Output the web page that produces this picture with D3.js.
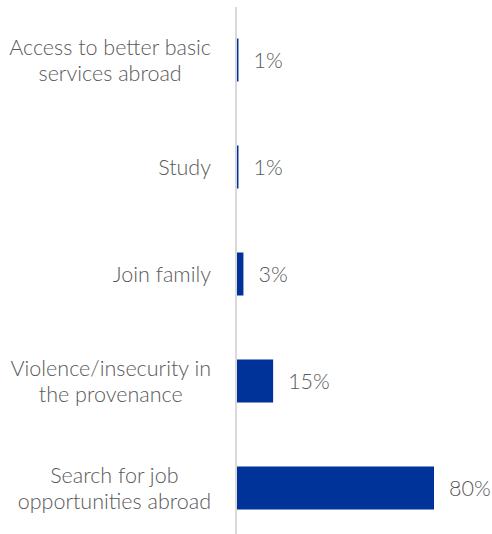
<!DOCTYPE html>
<html>
<head>
<meta charset="utf-8">
<script src="https://cdn.jsdelivr.net/npm/d3@7"></script>
<style>
  html, body { margin: 0; padding: 0; background: #fff; }
  svg { display: block; }
  text { font-family: "Lato", "Open Sans", sans-serif; fill: #595959; }
</style>
</head>
<body>
<svg id="chart" width="492" height="534"></svg>
<script>
const categories = [
  ["Access to better basic", "services abroad"],
  ["Study"],
  ["Join family"],
  ["Violence/insecurity in", "the provenance"],
  ["Search for job", "opportunities abroad"]
];
const values = [1, 1, 3, 15, 80];
const valueLabels = ["1%", "1%", "3%", "15%", "80%"];

const svg = d3.select("#chart");
const axisX = 236;
const x = d3.scaleLinear().domain([0, 80]).range([axisX, 434]);
const y = d3.scaleBand().domain(d3.range(categories.length)).range([6.5, 541.5])
  .paddingInner(0.598).paddingOuter(0.299);

svg.selectAll("rect.bar").data(values).join("rect")
  .attr("class", "bar")
  .attr("x", x(0))
  .attr("y", (d, i) => y(i))
  .attr("width", d => x(d) - x(0))
  .attr("height", y.bandwidth())
  .attr("fill", "#00339a");

svg.append("line")
  .attr("x1", axisX).attr("x2", axisX)
  .attr("y1", 7).attr("y2", 534)
  .attr("stroke", "#d9d9d9").attr("stroke-width", 2);

const fs = 21.5, lh = 26, labelRight = 211;
const lbl = svg.selectAll("text.cat").data(categories).join("text")
  .attr("class", "cat")
  .attr("text-anchor", "middle")
  .attr("font-size", fs)
  .attr("font-weight", 300);
lbl.each(function(lines, i) {
  const cy = y(i) + y.bandwidth() / 2;
  const n = lines.length;
  const t = d3.select(this);
  const spans = t.selectAll("tspan").data(lines).join("tspan")
    .attr("y", (l, j) => cy + (j - (n - 1) / 2) * lh)
    .attr("dy", "0.35em")
    .text(l => l);
  let maxW = 0;
  spans.each(function() { maxW = Math.max(maxW, this.getComputedTextLength()); });
  spans.attr("x", labelRight - maxW / 2);
});

svg.selectAll("text.val").data(values).join("text")
  .attr("class", "val")
  .attr("x", d => x(d) + 15)
  .attr("y", (d, i) => y(i) + y.bandwidth() / 2)
  .attr("dy", "0.35em")
  .attr("font-size", fs)
  .attr("font-weight", 300)
  .text((d, i) => valueLabels[i]);
</script>
</body>
</html>
